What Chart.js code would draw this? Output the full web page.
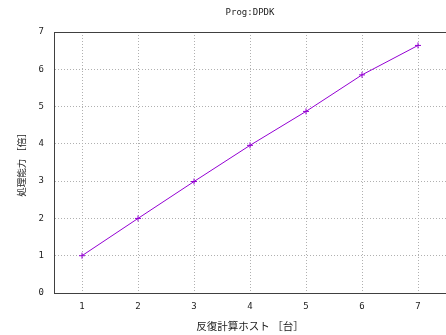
<!DOCTYPE html>
<html>
<head>
<meta charset="utf-8">
<script src="https://cdn.jsdelivr.net/npm/chart.js@4/dist/chart.umd.min.js"></script>
<style>
html,body{margin:0;padding:0;background:#fff;}
canvas{display:block;}
</style>
</head>
<body>
<canvas id="c" width="446" height="335"></canvas>
<script>
const titleText = "Prog:DPDK";
const xTitle = "反復計算ホスト ［台］";
const yTitle = "処理能力 ［倍］";
const hosts = [1, 2, 3, 4, 5, 6, 7];
const speedup = [1.0, 2.0, 2.99, 3.96, 4.87, 5.85, 6.64];
const xTicks = [1, 2, 3, 4, 5, 6, 7];
const yTicks = [0, 1, 2, 3, 4, 5, 6, 7];

const mono = "'DejaVu Sans Mono', monospace";
const cjk = "'Noto Sans CJK JP', sans-serif";
const gridColor = "#b0b0b0";
const axisColor = "#404040";

new Chart(document.getElementById('c'), {
  type: 'line',
  data: {
    datasets: [{
      data: hosts.map((h, i) => ({x: h, y: speedup[i]})),
      borderColor: '#9400d3',
      backgroundColor: '#9400d3',
      borderWidth: 1,
      pointStyle: 'cross',
      pointRadius: 3,
      pointBorderWidth: 1,
      tension: 0,
      fill: false
    }]
  },
  options: {
    responsive: false,
    devicePixelRatio: 1,
    animation: false,
    layout: {padding: 0, autoPadding: false},
    plugins: {legend: {display: false}, tooltip: {enabled: false}, title: {display: false}},
    scales: {
      x: {
        type: 'linear', position: 'bottom', min: 0.5, max: 7.5,
        afterBuildTicks: s => { s.ticks = xTicks.map(v => ({value: v})); },
        afterFit: s => { s.height = 42; },
        ticks: {color: '#222', font: {family: mono, size: 9}, padding: 8},
        grid: {color: gridColor, drawTicks: false, lineWidth: 1},
        border: {color: axisColor, width: 1, dash: [1, 2]},
        title: {display: true, text: xTitle, color: '#222', font: {family: cjk, size: 10.5}, padding: {top: 2, bottom: 3}}
      },
      x2: {
        type: 'linear', position: 'top', min: 0.5, max: 7.5,
        afterFit: s => { s.height = 32; },
        ticks: {display: false},
        grid: {drawOnChartArea: false, drawTicks: false},
        border: {color: axisColor, width: 1},
        title: {display: true, text: titleText, color: '#222', font: {family: mono, size: 9}, padding: {top: 7, bottom: 0}}
      },
      y: {
        type: 'linear', min: 0, max: 7,
        afterBuildTicks: s => { s.ticks = yTicks.map(v => ({value: v})); },
        afterFit: s => { s.width = 54; },
        ticks: {color: '#222', font: {family: mono, size: 9}, padding: 10},
        grid: {color: gridColor, drawTicks: false, lineWidth: 1},
        border: {color: axisColor, width: 1, dash: [1, 2]},
        title: {display: true, text: yTitle, color: '#222', font: {family: cjk, size: 9.5}, padding: {top: 16, bottom: 0}}
      }
    }
  }
});
</script>
</body>
</html>
